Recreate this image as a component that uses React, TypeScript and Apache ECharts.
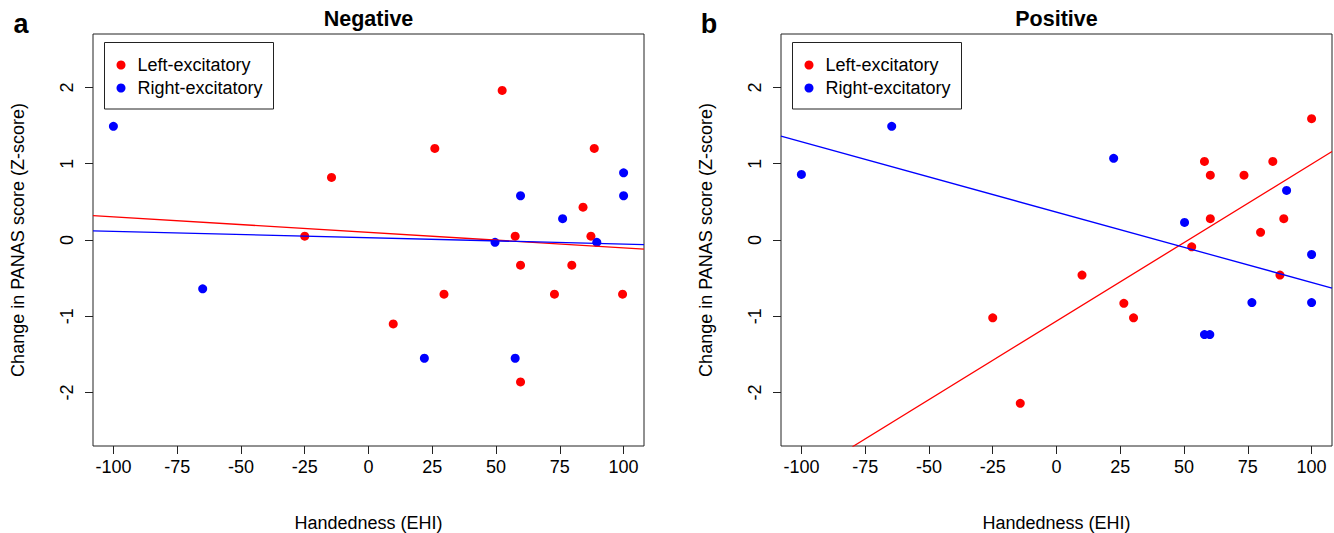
import React, { useEffect, useRef } from "react";
import * as echarts from "echarts";

const xTicks = [-100, -75, -50, -25, 0, 25, 50, 75, 100];
const yTicks = [-2, -1, 0, 1, 2];
const panelTitles = ["Negative", "Positive"];
const panelLetters = ["a", "b"];
const legendNames = ["Left-excitatory", "Right-excitatory"];

// Negative panel
const negLeftX = [-25, -14.5, 9.7, 26, 29.6, 52.4, 57.5, 59.6, 59.6, 72.9, 79.7, 84.1, 87.2, 88.5, 99.6];
const negLeftY = [0.05, 0.82, -1.1, 1.2, -0.71, 1.96, 0.05, -0.33, -1.86, -0.71, -0.33, 0.43, 0.05, 1.2, -0.71];
const negRightX = [-100, -65, 21.9, 49.6, 57.5, 59.6, 76.1, 89.5, 100, 100];
const negRightY = [1.49, -0.64, -1.55, -0.03, -1.55, 0.58, 0.28, -0.03, 0.88, 0.58];
const negLeftFit = [[-108, 0.32], [108, -0.12]];
const negRightFit = [[-108, 0.12], [108, -0.06]];

// Positive panel
const posLeftX = [-25, -14.2, 10, 26.4, 30.2, 53, 58, 60.3, 60.3, 73.5, 80, 84.8, 87.6, 89.1, 100];
const posLeftY = [-1.02, -2.14, -0.46, -0.83, -1.02, -0.09, 1.03, 0.85, 0.28, 0.85, 0.1, 1.03, -0.46, 0.28, 1.59];
const posRightX = [-100, -64.6, 22.4, 50.2, 58, 60.1, 76.6, 90.2, 100, 100];
const posRightY = [0.86, 1.49, 1.07, 0.23, -1.24, -1.24, -0.82, 0.65, -0.19, -0.82];
const posLeftFit = [[-80, -2.71], [108, 1.16]];
const posRightFit = [[-108, 1.36], [108, -0.63]];

const RED = "#FF0000";
const BLUE = "#0000FF";
const FONT = "'Liberation Sans', Arial, sans-serif";

const zip = (xs: number[], ys: number[]) => xs.map((x, i) => [x, ys[i]]);

export default function App() {
  const ref = useRef<HTMLDivElement>(null);
  useEffect(() => {
    if (!ref.current) return;
    const chart = echarts.init(ref.current, null, { renderer: "svg" });
    const gridLefts = [93, 781];
    const gridW = 551;
    const gridTop = 34;
    const gridH = 412;

    const grids = gridLefts.map((l) => ({
      left: l,
      top: gridTop,
      width: gridW,
      height: gridH,
      show: true,
      borderColor: "#222",
      borderWidth: 1,
      backgroundColor: "transparent",
    }));

    const xAxes = [0, 1].map((i) => ({
      type: "value",
      gridIndex: i,
      min: -108,
      max: 108,
      axisLine: { show: false, onZero: false },
      splitLine: { show: false },
      axisTick: { show: true, inside: false, length: 8, customValues: xTicks, lineStyle: { color: "#222" } },
      axisLabel: { customValues: xTicks, margin: 12, fontSize: 18, color: "#000", fontFamily: FONT },
    }));
    const yAxes = [0, 1].map((i) => ({
      type: "value",
      gridIndex: i,
      min: -2.7,
      max: 2.7,
      axisLine: { show: false, onZero: false },
      splitLine: { show: false },
      axisTick: { show: true, inside: false, length: 8, customValues: yTicks, lineStyle: { color: "#222" } },
      axisLabel: { customValues: yTicks, rotate: 90, margin: 17, fontSize: 18, color: "#000", fontFamily: FONT },
    }));

    const scatter = (name: string, idx: number, data: number[][], color: string) => ({
      name,
      type: "scatter",
      xAxisIndex: idx,
      yAxisIndex: idx,
      data,
      symbol: "circle",
      symbolSize: 9,
      itemStyle: { color, opacity: 1 },
      z: 2,
    });
    const fit = (idx: number, data: number[][], color: string) => ({
      type: "line",
      xAxisIndex: idx,
      yAxisIndex: idx,
      data,
      showSymbol: false,
      symbol: "none",
      clip: true,
      lineStyle: { color, width: 1.3 },
      z: 3,
    });

    const graphics: any[] = [];
    gridLefts.forEach((l, i) => {
      const cx = l + gridW / 2;
      graphics.push({
        type: "text",
        x: cx,
        y: 19,
        style: { text: panelTitles[i], font: `bold 21.5px ${FONT}`, fill: "#000", textAlign: "center", textVerticalAlign: "middle" },
      });
      graphics.push({
        type: "text",
        x: l - 72,
        y: 24,
        style: { text: panelLetters[i], font: `bold 27px ${FONT}`, fill: "#000", textAlign: "center", textVerticalAlign: "middle" },
      });
      graphics.push({
        type: "text",
        x: cx,
        y: 523,
        style: { text: "Handedness (EHI)", font: `18px ${FONT}`, fill: "#000", textAlign: "center", textVerticalAlign: "middle" },
      });
      graphics.push({
        type: "text",
        x: l - 75,
        y: gridTop + gridH / 2,
        rotation: Math.PI / 2,
        style: { text: "Change in PANAS score (Z-score)", font: `18px ${FONT}`, fill: "#000", textAlign: "center", textVerticalAlign: "middle" },
      });
      // legend box
      const bx = l + 11.5;
      graphics.push({
        type: "rect",
        shape: { x: bx, y: 42.5, width: 169, height: 66.5 },
        style: { fill: "#fff", stroke: "#222", lineWidth: 1 },
        z: 10,
      });
      [RED, BLUE].forEach((c, k) => {
        const yy = 65 + k * 23;
        graphics.push({ type: "circle", shape: { cx: bx + 16.5, cy: yy, r: 4.5 }, style: { fill: c }, z: 11 });
        graphics.push({
          type: "text",
          x: bx + 33,
          y: yy,
          style: { text: legendNames[k], font: `18px ${FONT}`, fill: "#000", textAlign: "left", textVerticalAlign: "middle" },
          z: 11,
        });
      });
    });

    chart.setOption({
      animation: false,
      backgroundColor: "#fff",
      grid: grids,
      xAxis: xAxes,
      yAxis: yAxes,
      graphic: graphics,
      series: [
        scatter(legendNames[0], 0, zip(negLeftX, negLeftY), RED),
        scatter(legendNames[1], 0, zip(negRightX, negRightY), BLUE),
        fit(0, negLeftFit, RED),
        fit(0, negRightFit, BLUE),
        scatter(legendNames[0], 1, zip(posLeftX, posLeftY), RED),
        scatter(legendNames[1], 1, zip(posRightX, posRightY), BLUE),
        fit(1, posLeftFit, RED),
        fit(1, posRightFit, BLUE),
      ],
    });
    return () => chart.dispose();
  }, []);
  return <div ref={ref} style={{ position: "absolute", left: 0, top: 0, width: 1334, height: 533 }} />;
}
